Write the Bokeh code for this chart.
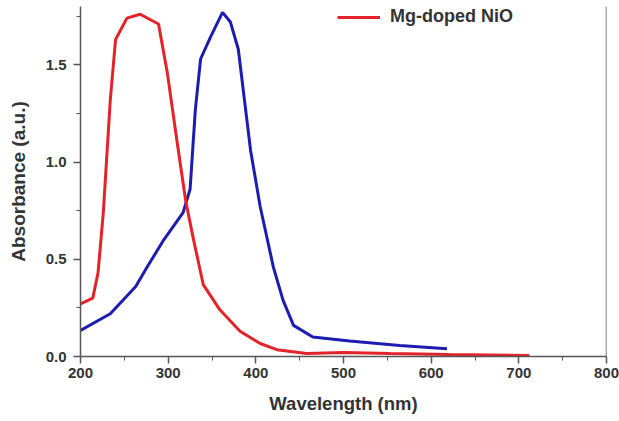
from bokeh.plotting import figure
from bokeh.models import Range1d, Legend, LegendItem, FixedTicker, Span, CustomJSTickFormatter
from bokeh.embed import file_html
from bokeh.resources import INLINE

# Mg-doped NiO (red)
red_x = [200, 214, 220, 226, 234, 240, 253, 268, 289, 299, 310, 320, 329, 340, 359, 382, 405, 424, 458, 500, 553, 620, 712]
red_y = [0.27, 0.30, 0.43, 0.74, 1.32, 1.63, 1.74, 1.76, 1.71, 1.46, 1.11, 0.80, 0.60, 0.37, 0.24, 0.13, 0.067, 0.035, 0.015, 0.02, 0.015, 0.01, 0.005]

# Pure NiO (blue)
blue_x = [200, 234, 263, 276, 295, 317, 325, 331, 337, 348, 362, 371, 380, 394, 405, 420, 431, 443, 465, 507, 564, 618]
blue_y = [0.134, 0.22, 0.36, 0.46, 0.60, 0.74, 0.86, 1.27, 1.53, 1.64, 1.77, 1.72, 1.58, 1.06, 0.77, 0.46, 0.29, 0.16, 0.10, 0.08, 0.057, 0.04]

x_ticks = [200, 300, 400, 500, 600, 700, 800]
y_ticks = [0.0, 0.5, 1.0, 1.5]

FONT = "Liberation Sans"
TXT = "#333333"
AX = "#555555"

p = figure(width=619, height=421, output_backend="svg", toolbar_location=None,
           x_range=Range1d(200, 800), y_range=Range1d(0, 1.80),
           min_border_left=80, min_border_right=13, min_border_top=6, min_border_bottom=65)
p.outline_line_color = None
p.grid.grid_line_color = None

blue_r = p.line(blue_x, blue_y, line_color="#1c1cb0", line_width=3)
red_r = p.line(red_x, red_y, line_color="#e3232a", line_width=3)

for ax in (p.xaxis[0], p.yaxis[0]):
    ax.axis_line_color = AX
    ax.axis_line_width = 1.5
    ax.major_tick_line_color = AX
    ax.minor_tick_line_color = AX
    ax.major_tick_line_width = 1.5
    ax.major_tick_out = 7
    ax.major_tick_in = 0
    ax.minor_tick_out = 4
    ax.minor_tick_in = 0
    ax.major_label_text_font = FONT
    ax.major_label_text_font_style = "bold"
    ax.major_label_text_font_size = "15px"
    ax.major_label_text_color = TXT
    ax.axis_label_text_font = FONT
    ax.axis_label_text_font_style = "bold"
    ax.axis_label_text_color = TXT

p.xaxis.axis_label_text_font_size = "18.5px"
p.yaxis.axis_label_text_font_size = "19px"

p.xaxis.ticker = FixedTicker(ticks=x_ticks, minor_ticks=[250, 350, 450, 550, 650, 750])
p.yaxis.ticker = FixedTicker(ticks=y_ticks, minor_ticks=[0.25, 0.75, 1.25, 1.75])
p.yaxis.formatter = CustomJSTickFormatter(code="return tick.toFixed(1)")
p.xaxis.axis_label = "Wavelength (nm)"
p.yaxis.axis_label = "Absorbance (a.u.)"
p.xaxis.major_label_standoff = 4
p.yaxis.major_label_standoff = 7
p.xaxis.axis_label_standoff = 12
p.yaxis.axis_label_standoff = 14

# right frame line
p.add_layout(Span(location=800, dimension="height", line_color=AX, line_width=1.5))

legend = Legend(items=[LegendItem(label="Mg-doped NiO", renderers=[red_r])],
                location=(257, 329), border_line_color=None, background_fill_alpha=0,
                padding=0, margin=0, glyph_width=43, glyph_height=18, label_height=18,
                label_standoff=10, label_text_font=FONT, label_text_font_style="bold",
                label_text_font_size="18px", label_text_color=TXT)
p.add_layout(legend)

open("out.html", "w").write(file_html(p, INLINE))
